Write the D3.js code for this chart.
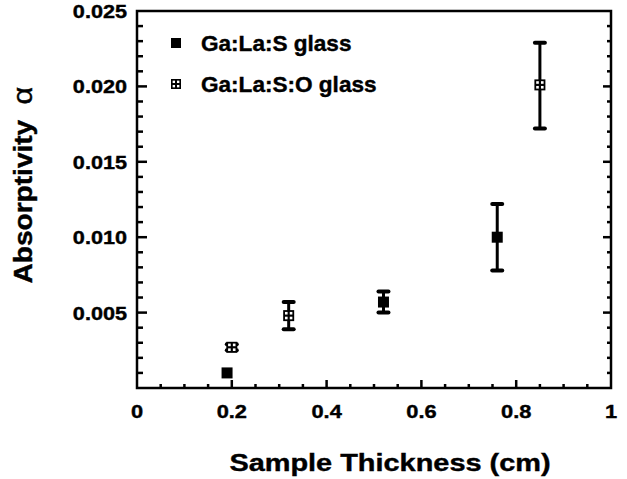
<!DOCTYPE html>
<html>
<head>
<meta charset="utf-8">
<script src="https://cdn.jsdelivr.net/npm/d3@7"></script>
<style>
    body { margin: 0; background: #fff; }
    text { font-family: "Liberation Sans", Arial, sans-serif; font-weight: bold; fill: #000; stroke: #000; stroke-width: 0.4px; }
</style>
</head>
<body>
<svg id="chart" width="627" height="479"></svg>
<script>
// Ga:La:S glass (filled squares)
var sThickness = [0.19, 0.52, 0.76];
var sAlpha = [0.0010, 0.0057, 0.0100];
var sErrHi = [0.0000, 0.0007, 0.0022];
var sErrLo = [0.0000, 0.0007, 0.0022];

// Ga:La:S:O glass (squares with a cross)
var oThickness = [0.20, 0.32, 0.85];
var oAlpha = [0.0027, 0.0048, 0.0201];
var oErrHi = [0.0002, 0.0009, 0.0028];
var oErrLo = [0.0002, 0.0009, 0.0029];

var xTicks = [0, 0.2, 0.4, 0.6, 0.8, 1];
var xTickLabels = ["0", "0.2", "0.4", "0.6", "0.8", "1"];
var yTicks = [0.005, 0.010, 0.015, 0.020, 0.025];
var yTickLabels = ["0.005", "0.010", "0.015", "0.020", "0.025"];

var seriesNames = ["Ga:La:S glass", "Ga:La:S:O glass"];

var svg = d3.select("#chart");
var plotLeft = 137, plotRight = 611, plotTop = 11, plotBottom = 388;

var x = d3.scaleLinear().domain([0, 1]).range([plotLeft, plotRight]);
var y = d3.scaleLinear().domain([0, 0.025]).range([plotBottom, plotTop]);

// text helper, the scanned font runs a little wide
function label(sel, px, py, str, size, sx, anchor, rot) {
    return sel.append("text")
        .attr("transform", "translate(" + px + "," + py + ") rotate(" + (rot || 0) + ") scale(" + sx + ",1)")
        .attr("text-anchor", anchor)
        .style("font-size", size + "px")
        .text(str);
}

// ticks, all pointing inwards
var axes = svg.append("g").attr("stroke", "#000");
var yMinor = d3.range(1, 25).map(function(i) { return i * 0.001; });
yMinor.forEach(function(v) {
    var major = Math.abs(v * 200 - Math.round(v * 200)) < 1e-6;
    var len = major ? 10 : 6;
    axes.append("line").attr("x1", plotLeft).attr("x2", plotLeft + len)
        .attr("y1", y(v)).attr("y2", y(v)).attr("stroke-width", 2.5);
    axes.append("line").attr("x1", plotRight).attr("x2", plotRight - len + 2)
        .attr("y1", y(v)).attr("y2", y(v)).attr("stroke-width", 2.5);
});
var xMinor = d3.range(1, 20).map(function(i) { return i * 0.05; });
xMinor.forEach(function(v) {
    var major = Math.abs(v * 5 - Math.round(v * 5)) < 1e-6;
    axes.append("line").attr("x1", x(v)).attr("x2", x(v))
        .attr("y1", plotBottom).attr("y2", plotBottom - (major ? 8 : 4)).attr("stroke-width", 2.5);
});

// frame
svg.append("rect")
    .attr("x", plotLeft).attr("y", plotTop)
    .attr("width", plotRight - plotLeft).attr("height", plotBottom - plotTop)
    .attr("fill", "none").attr("stroke", "#000").attr("stroke-width", 2.5);

// tick labels
xTicks.forEach(function(v, i) {
    label(svg, x(v), 418, xTickLabels[i], 18.5, 1.18, "middle");
});
yTicks.forEach(function(v, i) {
    label(svg, 127, y(v) + 7, yTickLabels[i], 18.5, 1.17, "end");
});

// axis titles
label(svg, 390, 471, "Sample Thickness (cm)", 24.5, 1.18, "middle");
var yt = label(svg, 32, 185, "", 25.5, 1.1, "middle", -90);
yt.append("tspan").text("Absorptivity");
yt.append("tspan").attr("dx", 14).style("font-weight", "normal").style("font-size", "28px").text("\u03b1");

// markers
function plain(g, px, py, s) {
    g.append("rect").attr("x", px - s / 2).attr("y", py - s / 2)
        .attr("width", s).attr("height", s).attr("fill", "#000");
}
function crossed(g, px, py, s) {
    plain(g, px, py, s);
    var q = s / 4.2;
    [[-1, -1], [1, -1], [-1, 1], [1, 1]].forEach(function(d) {
        g.append("rect")
            .attr("x", px + d[0] * s / 4.6 - q / 2).attr("y", py + d[1] * s / 4.6 - q / 2)
            .attr("width", q).attr("height", q).attr("fill", "#fff");
    });
}

function errorBars(xs, ys, hi, lo) {
    var g = svg.append("g").attr("stroke", "#000");
    xs.forEach(function(v, i) {
        if (hi[i] + lo[i] <= 0) return;
        var cx = x(v), y1 = y(ys[i] + hi[i]), y2 = y(ys[i] - lo[i]);
        g.append("line").attr("x1", cx).attr("x2", cx).attr("y1", y1).attr("y2", y2).attr("stroke-width", 3);
        [y1, y2].forEach(function(cy) {
            g.append("line").attr("x1", cx - 5).attr("x2", cx + 5)
                .attr("y1", cy).attr("y2", cy).attr("stroke-width", 4).attr("stroke-linecap", "round");
        });
    });
}

errorBars(sThickness, sAlpha, sErrHi, sErrLo);
errorBars(oThickness, oAlpha, oErrHi, oErrLo);

var marks = svg.append("g");
sThickness.forEach(function(v, i) { plain(marks, x(v), y(sAlpha[i]), 11); });
oThickness.forEach(function(v, i) { crossed(marks, x(v), y(oAlpha[i]), 11); });

// legend
var legend = svg.append("g");
plain(legend, 176, 43, 10);
crossed(legend, 176, 84, 10);
label(legend, 201, 51, seriesNames[0], 21.5, 1.05, "start");
label(legend, 201, 92, seriesNames[1], 21.5, 1.05, "start");
</script>
</body>
</html>
